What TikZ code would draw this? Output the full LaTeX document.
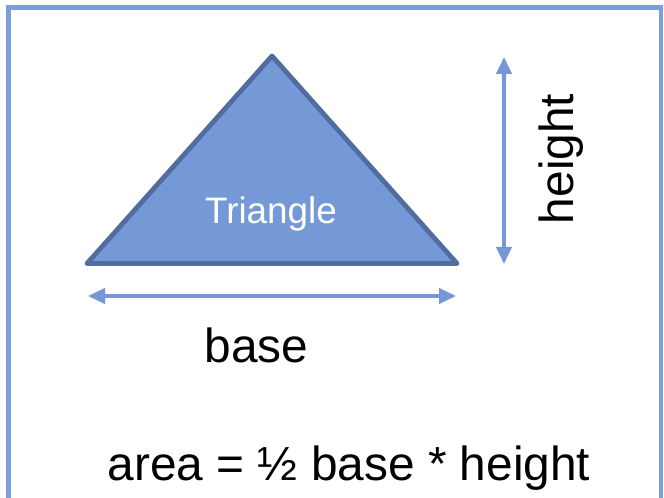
\documentclass[tikz,border=0pt]{standalone}
\usepackage{fontspec}
\setmainfont{Liberation Sans}
\usetikzlibrary{arrows.meta}
\definecolor{framec}{HTML}{7C9FDB}
\definecolor{fillc}{HTML}{7599D6}
\definecolor{edgec}{HTML}{516C9E}
\tikzset{
  framebox/.style={draw=framec, line width=4.5bp},
  tri/.style={fill=fillc, draw=edgec, line width=4.8bp, line join=round},
  dimarrow/.style={draw=fillc, line width=4bp, {Triangle[length=17bp,width=15bp]}-{Triangle[length=17bp,width=15bp]}},
  bigtext/.style={font=\fontsize{48}{52}\selectfont, inner sep=0pt, anchor=base},
}
\begin{document}
\begin{tikzpicture}[x=1bp,y=-1bp]
\clip (0,0) rectangle (664,498);
\fill[white] (0,0) rectangle (664,498);
\draw[framebox] (8.5,510) -- (8.5,7.5) -- (661,7.5) -- (661,510);
\coordinate (apex) at (272,56);
\coordinate (bl) at (87,263.5);
\coordinate (br) at (457,263.5);
\draw[tri] (apex) -- (br) -- (bl) -- cycle;
\node[font=\fontsize{37}{42}\selectfont, text=white, inner sep=0pt, anchor=base] (tlabel) at (271,224) {Triangle};
\coordinate (b1) at (88,296);
\coordinate (b2) at (456,296);
\draw[dimarrow] (b1) -- (b2);
\coordinate (h1) at (504,57);
\coordinate (h2) at (504,264);
\draw[dimarrow] (h1) -- (h2);
\node[bigtext] (base) at (256.5,362) {base};
\node[bigtext, rotate=90] (height) at (573,159) {height};
\node[bigtext] (area) at (349,480) {area = ½ base * height};
\end{tikzpicture}
\end{document}
